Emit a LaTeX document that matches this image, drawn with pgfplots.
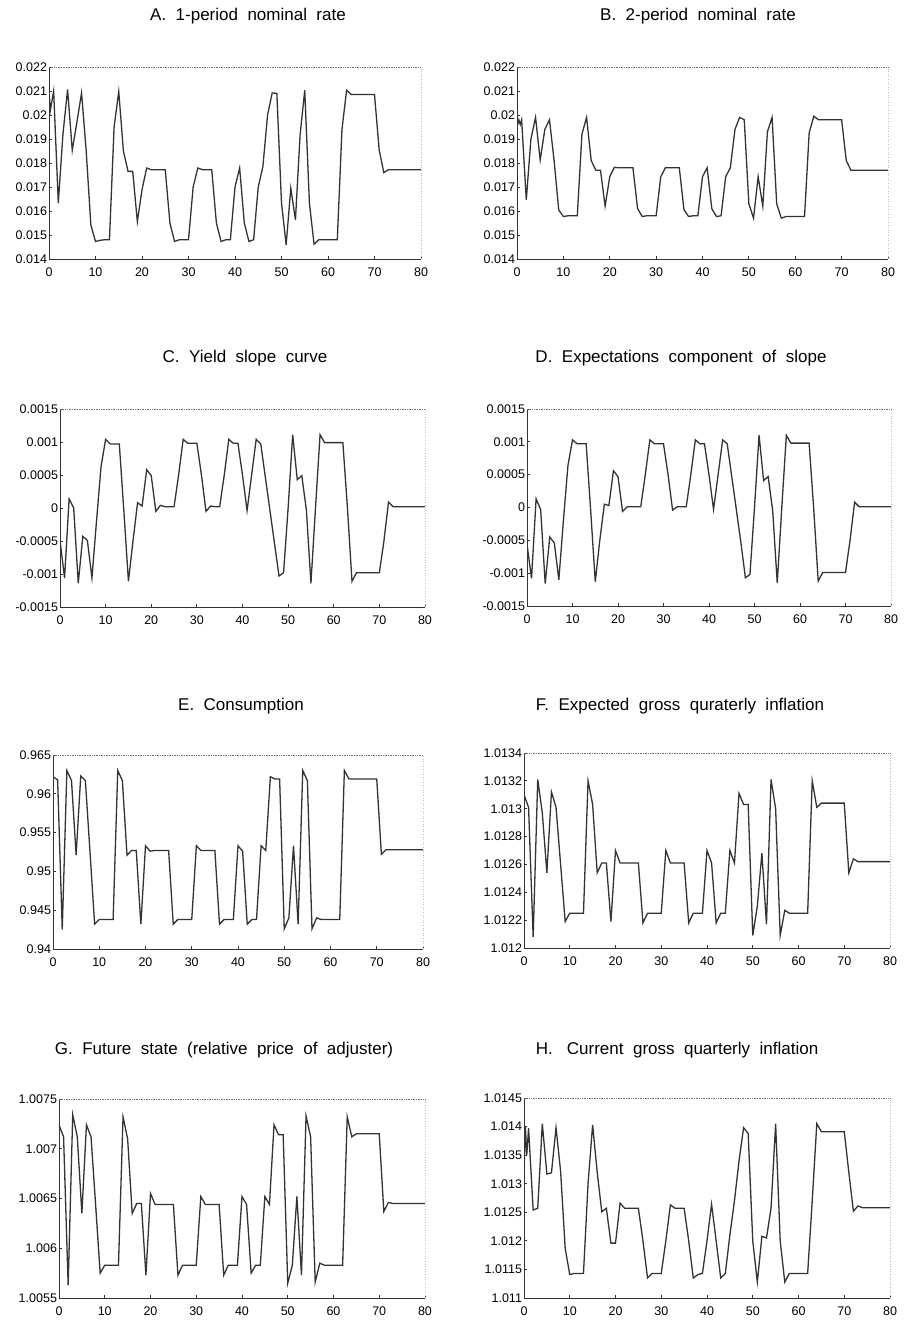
\documentclass[border=0pt]{standalone}
\usepackage{fontspec}
\setmainfont{Liberation Sans}
\usepackage{pgfplots}
\pgfplotsset{compat=1.18}
\pgfplotsset{
  panel/.style={
    scale only axis, anchor=south west,
    xmin=0, xmax=80, xtick={0,10,20,30,40,50,60,70,80},
    axis x line*=bottom, axis y line*=left,
    axis line style={-, line width=0.9pt, black!80},
    tick align=inside, major tick length=3pt,
    tick style={black!80, line width=0.8pt},
    ticklabel style={font=\fontsize{12.5}{13}\selectfont},
    /pgf/number format/assume math mode=true,
    scaled ticks=false,
    xticklabel style={yshift=-5pt},
    yticklabel style={xshift=1.5pt},
    every axis plot post/.append style={line width=1.3pt, draw=black!80, mark=none},
    after end axis/.code={
      \draw[densely dotted, black!55, line width=0.7pt] (rel axis cs:0,1) -- (rel axis cs:1,1);
      \draw[dotted, black!25, line width=0.6pt] (rel axis cs:1,0) -- (rel axis cs:1,1);
    },
  },
}
\begin{document}
\begin{tikzpicture}
\path[use as bounding box] (0pt,0pt) rectangle (906pt,1324pt);
\tikzset{ttl/.style={font=\fontsize{17}{20}\selectfont, inner sep=0pt}}
\node[ttl] at (248pt,1308pt) {A.\ \ 1-period\ \ nominal\ \ rate};
\node[ttl] at (698pt,1308pt) {B.\ \ 2-period\ \ nominal\ \ rate};
\node[ttl] at (245pt,966pt) {C.\ \ Yield\ \ slope\ \ curve};
\node[ttl] at (681pt,966pt) {D.\ \ Expectations\ \ component\ \ of\ \ slope};
\node[ttl] at (241pt,618pt) {E.\ \ Consumption};
\node[ttl] at (680pt,618pt) {F.\ \ Expected\ \ gross\ \ quraterly\ \ inflation};
\node[ttl] at (224pt,274pt) {G.\ \ Future\ \ state\ \ (relative\ \ price\ \ of\ \ adjuster)};
\node[ttl] at (677pt,274pt) {H.\ \ \ Current\ \ gross\ \ quarterly\ \ inflation};

% A
\begin{axis}[panel, at={(49pt,1065pt)}, width=372pt, height=192pt,
  ymin=0.014, ymax=0.022,
  ytick={0.014,0.015,0.016,0.017,0.018,0.019,0.020,0.021,0.022},
  yticklabels={0.014,0.015,0.016,0.017,0.018,0.019,0.02,0.021,0.022}]
\addplot coordinates {(0,0.0210)(0.3,0.0202)(1,0.0210)(2,0.01633)(3,0.0192)(4,0.02106)(5,0.01853)(6,0.0197)(7,0.02092)(8,0.0185)(9,0.01542)(10,0.01473)(11,0.01478)(12,0.0148)(13,0.0148)(14,0.0195)(15,0.02098)(16,0.0185)(17,0.01765)(18,0.01765)(19,0.01556)(20,0.01688)(21,0.01779)(22,0.01772)(23,0.01772)(24,0.01772)(25,0.01772)(26,0.0155)(27,0.01473)(28,0.0148)(29,0.0148)(30,0.0148)(31,0.0170)(32,0.01779)(33,0.01772)(34,0.01772)(35,0.01772)(36,0.0155)(37,0.01473)(38,0.0148)(39,0.0148)(40,0.0170)(41,0.01779)(42,0.0155)(43,0.01473)(44,0.0148)(45,0.0170)(46,0.01785)(47,0.0200)(48,0.02092)(49,0.0209)(50,0.01633)(51,0.01459)(52,0.01695)(53,0.01563)(54,0.01918)(55,0.02103)(56,0.01633)(57,0.01462)(58,0.0148)(59,0.0148)(60,0.0148)(61,0.0148)(62,0.0148)(63,0.01939)(64,0.02103)(65,0.02085)(66,0.02085)(67,0.02085)(68,0.02085)(69,0.02085)(70,0.02085)(71,0.01855)(72,0.0176)(73,0.01772)(74,0.01772)(75,0.01772)(76,0.01772)(77,0.01772)(78,0.01772)(79,0.01772)(80,0.01772)};
\end{axis}

% B
\begin{axis}[panel, at={(517pt,1065pt)}, width=371pt, height=192pt,
  ymin=0.014, ymax=0.022,
  ytick={0.014,0.015,0.016,0.017,0.018,0.019,0.020,0.021,0.022},
  yticklabels={0.014,0.015,0.016,0.017,0.018,0.019,0.02,0.021,0.022}]
\addplot coordinates {(0,0.0195)(0.4,0.0198)(0.7,0.0196)(1,0.0198)(2,0.01646)(3,0.0190)(4,0.0199)(5,0.01812)(6,0.0194)(7,0.0198)(8,0.0181)(9,0.01604)(10,0.01577)(11,0.0158)(12,0.0158)(13,0.0158)(14,0.0192)(15,0.0199)(16,0.0181)(17,0.0177)(18,0.0177)(19,0.0162)(20,0.01743)(21,0.01782)(22,0.0178)(23,0.0178)(24,0.0178)(25,0.0178)(26,0.0161)(27,0.01577)(28,0.0158)(29,0.0158)(30,0.0158)(31,0.01743)(32,0.0178)(33,0.0178)(34,0.0178)(35,0.0178)(36,0.01605)(37,0.01577)(38,0.0158)(39,0.0158)(40,0.01743)(41,0.0178)(42,0.0161)(43,0.01577)(44,0.0158)(45,0.01743)(46,0.0178)(47,0.0194)(48,0.0199)(49,0.0198)(50,0.0163)(51,0.0157)(52,0.01743)(53,0.0162)(54,0.0193)(55,0.0199)(56,0.0163)(57,0.0157)(58,0.01577)(59,0.01577)(60,0.01577)(61,0.01577)(62,0.01577)(63,0.01925)(64,0.01995)(65,0.0198)(66,0.0198)(67,0.0198)(68,0.0198)(69,0.0198)(70,0.0198)(71,0.0181)(72,0.0177)(73,0.0177)(74,0.0177)(75,0.0177)(76,0.0177)(77,0.0177)(78,0.0177)(79,0.0177)(80,0.0177)};
\end{axis}

% C
\begin{axis}[panel, at={(60pt,717pt)}, width=365pt, height=198pt,
  ymin=-0.0015, ymax=0.0015,
  ytick={-0.0015,-0.001,-0.0005,0,0.0005,0.001,0.0015},
  yticklabels={-0.0015,-0.001,-0.0005,0,0.0005,0.001,0.0015}]
\addplot coordinates {(0,-0.00049)(1,-0.00106)(2,0.00014)(3,0.0)(4,-0.00114)(5,-0.00043)(6,-0.00049)(7,-0.00106)(8,-0.0002)(9,0.00063)(10,0.00104)(11,0.00097)(12,0.00097)(13,0.00097)(14,-0.00005)(15,-0.00111)(16,-0.0005)(17,0.00008)(18,0.00003)(19,0.00058)(20,0.00049)(21,-0.00005)(22,0.00004)(23,0.00002)(24,0.00002)(25,0.00002)(26,0.0005)(27,0.00104)(28,0.00098)(29,0.00098)(30,0.00098)(31,0.0005)(32,-0.00005)(33,0.00003)(34,0.00002)(35,0.00002)(36,0.0005)(37,0.00104)(38,0.00098)(39,0.00098)(40,0.0005)(41,-0.00004)(42,0.0005)(43,0.00104)(44,0.00097)(45,0.00047)(46,-0.00003)(47,-0.00053)(48,-0.00103)(49,-0.00098)(50,0.0)(51,0.00111)(52,0.00043)(53,0.00049)(54,-0.00003)(55,-0.00114)(56,0.0)(57,0.00111)(58,0.00099)(59,0.00099)(60,0.00099)(61,0.00099)(62,0.00099)(63,0.0)(64,-0.00111)(65,-0.00098)(66,-0.00098)(67,-0.00098)(68,-0.00098)(69,-0.00098)(70,-0.00098)(71,-0.0005)(72,0.00009)(73,0.00002)(74,0.00002)(75,0.00002)(76,0.00002)(77,0.00002)(78,0.00002)(79,0.00002)(80,0.00002)};
\end{axis}

% D
\begin{axis}[panel, at={(527pt,718pt)}, width=364pt, height=197pt,
  ymin=-0.0015, ymax=0.0015,
  ytick={-0.0015,-0.001,-0.0005,0,0.0005,0.001,0.0015},
  yticklabels={-0.0015,-0.001,-0.0005,0,0.0005,0.001,0.0015}]
\addplot coordinates {(0,-0.00056)(1,-0.00108)(2,0.00013)(3,-0.00003)(4,-0.00116)(5,-0.00045)(6,-0.00054)(7,-0.0011)(8,-0.0002)(9,0.00064)(10,0.00103)(11,0.00097)(12,0.00097)(13,0.00097)(14,-0.00005)(15,-0.00113)(16,-0.0005)(17,0.00005)(18,0.00003)(19,0.00056)(20,0.00047)(21,-0.00006)(22,0.00001)(23,0.00001)(24,0.00001)(25,0.00001)(26,0.0005)(27,0.00103)(28,0.00097)(29,0.00097)(30,0.00097)(31,0.0005)(32,-0.00004)(33,0.00001)(34,0.00001)(35,0.00001)(36,0.0005)(37,0.00103)(38,0.00097)(39,0.00097)(40,0.0005)(41,-0.00003)(42,0.0005)(43,0.00103)(44,0.00097)(45,0.00047)(46,-0.00003)(47,-0.00053)(48,-0.00107)(49,-0.00102)(50,0.0)(51,0.0011)(52,0.00041)(53,0.00047)(54,-0.00005)(55,-0.00115)(56,0.0)(57,0.0011)(58,0.00098)(59,0.00098)(60,0.00098)(61,0.00098)(62,0.00098)(63,0.0)(64,-0.00112)(65,-0.00099)(66,-0.00099)(67,-0.00099)(68,-0.00099)(69,-0.00099)(70,-0.00099)(71,-0.0005)(72,0.00008)(73,0.00001)(74,0.00001)(75,0.00001)(76,0.00001)(77,0.00001)(78,0.00001)(79,0.00001)(80,0.00001)};
\end{axis}

% E
\begin{axis}[panel, at={(53pt,375pt)}, width=370pt, height=194pt,
  ymin=0.94, ymax=0.965,
  ytick={0.94,0.945,0.95,0.955,0.96,0.965},
  yticklabels={0.94,0.945,0.95,0.955,0.96,0.965}]
\addplot coordinates {(0,0.9622)(1,0.9618)(2,0.9425)(3,0.9630)(4,0.9617)(5,0.9521)(6,0.9623)(7,0.9617)(8,0.9525)(9,0.9432)(10,0.9438)(11,0.9438)(12,0.9438)(13,0.9438)(14,0.9630)(15,0.9617)(16,0.9521)(17,0.9527)(18,0.9527)(19,0.9432)(20,0.9533)(21,0.9526)(22,0.9527)(23,0.9527)(24,0.9527)(25,0.9527)(26,0.9432)(27,0.9438)(28,0.9438)(29,0.9438)(30,0.9438)(31,0.9533)(32,0.9527)(33,0.9527)(34,0.9527)(35,0.9527)(36,0.9432)(37,0.9438)(38,0.9438)(39,0.9438)(40,0.9533)(41,0.9526)(42,0.9432)(43,0.9438)(44,0.9438)(45,0.9533)(46,0.9527)(47,0.9622)(48,0.9619)(49,0.9619)(50,0.9426)(51,0.9440)(52,0.9533)(53,0.9432)(54,0.9630)(55,0.9617)(56,0.9426)(57,0.9440)(58,0.9438)(59,0.9438)(60,0.9438)(61,0.9438)(62,0.9438)(63,0.9630)(64,0.9619)(65,0.9619)(66,0.9619)(67,0.9619)(68,0.9619)(69,0.9619)(70,0.9619)(71,0.9522)(72,0.9528)(73,0.9528)(74,0.9528)(75,0.9528)(76,0.9528)(77,0.9528)(78,0.9528)(79,0.9528)(80,0.9528)};
\end{axis}

% F
\begin{axis}[panel, at={(524pt,376pt)}, width=366pt, height=195pt,
  ymin=1.012, ymax=1.0134,
  ytick={1.012,1.0122,1.0124,1.0126,1.0128,1.013,1.0132,1.0134},
  yticklabels={1.012,1.0122,1.0124,1.0126,1.0128,1.013,1.0132,1.0134}]
\addplot coordinates {(0,1.0131)(1,1.01301)(2,1.01208)(3,1.01321)(4,1.01297)(5,1.01254)(6,1.01312)(7,1.01301)(8,1.0126)(9,1.01219)(10,1.01225)(11,1.01225)(12,1.01225)(13,1.01225)(14,1.0132)(15,1.01303)(16,1.01254)(17,1.01261)(18,1.01261)(19,1.01219)(20,1.0127)(21,1.01261)(22,1.01261)(23,1.01261)(24,1.01261)(25,1.01261)(26,1.01218)(27,1.01225)(28,1.01225)(29,1.01225)(30,1.01225)(31,1.0127)(32,1.01261)(33,1.01261)(34,1.01261)(35,1.01261)(36,1.01218)(37,1.01225)(38,1.01225)(39,1.01225)(40,1.0127)(41,1.01261)(42,1.01218)(43,1.01225)(44,1.01225)(45,1.0127)(46,1.01261)(47,1.01311)(48,1.01303)(49,1.01303)(50,1.01209)(51,1.0123)(52,1.01268)(53,1.01217)(54,1.01321)(55,1.013)(56,1.01209)(57,1.01227)(58,1.01225)(59,1.01225)(60,1.01225)(61,1.01225)(62,1.01225)(63,1.0132)(64,1.01301)(65,1.01304)(66,1.01304)(67,1.01304)(68,1.01304)(69,1.01304)(70,1.01304)(71,1.01254)(72,1.01264)(73,1.01262)(74,1.01262)(75,1.01262)(76,1.01262)(77,1.01262)(78,1.01262)(79,1.01262)(80,1.01262)};
\end{axis}

% G
\begin{axis}[panel, at={(59pt,26pt)}, width=366pt, height=199pt,
  ymin=1.0055, ymax=1.0075,
  ytick={1.0055,1.006,1.0065,1.007,1.0075},
  yticklabels={1.0055,1.006,1.0065,1.007,1.0075}]
\addplot coordinates {(0,1.00724)(1,1.00712)(2,1.00563)(3,1.00734)(4,1.00712)(5,1.00635)(6,1.00724)(7,1.00712)(8,1.00644)(9,1.00575)(10,1.00583)(11,1.00583)(12,1.00583)(13,1.00583)(14,1.00732)(15,1.0071)(16,1.00635)(17,1.00645)(18,1.00645)(19,1.00573)(20,1.00655)(21,1.00644)(22,1.00644)(23,1.00644)(24,1.00644)(25,1.00644)(26,1.00573)(27,1.00583)(28,1.00583)(29,1.00583)(30,1.00583)(31,1.00652)(32,1.00644)(33,1.00644)(34,1.00644)(35,1.00644)(36,1.00573)(37,1.00583)(38,1.00583)(39,1.00583)(40,1.00652)(41,1.00644)(42,1.00575)(43,1.00583)(44,1.00583)(45,1.00652)(46,1.00644)(47,1.00724)(48,1.00714)(49,1.00714)(50,1.00565)(51,1.00583)(52,1.00652)(53,1.00573)(54,1.00733)(55,1.00712)(56,1.00566)(57,1.00585)(58,1.00583)(59,1.00583)(60,1.00583)(61,1.00583)(62,1.00583)(63,1.00732)(64,1.00712)(65,1.00715)(66,1.00715)(67,1.00715)(68,1.00715)(69,1.00715)(70,1.00715)(71,1.00637)(72,1.00646)(73,1.00645)(74,1.00645)(75,1.00645)(76,1.00645)(77,1.00645)(78,1.00645)(79,1.00645)(80,1.00645)};
\end{axis}

% H
\begin{axis}[panel, at={(524pt,26pt)}, width=366pt, height=200pt,
  ymin=1.011, ymax=1.0145,
  ytick={1.011,1.0115,1.012,1.0125,1.013,1.0135,1.014,1.0145},
  yticklabels={1.011,1.0115,1.012,1.0125,1.013,1.0135,1.014,1.0145}]
\addplot coordinates {(0,1.01321)(0.3,1.0140)(0.6,1.0135)(1,1.01397)(2,1.01254)(3,1.01257)(4,1.01405)(5,1.01317)(6,1.01319)(7,1.01398)(8,1.01322)(9,1.01187)(10,1.01141)(11,1.01143)(12,1.01143)(13,1.01143)(14,1.0130)(15,1.01403)(16,1.0132)(17,1.01251)(18,1.01257)(19,1.01196)(20,1.01196)(21,1.01266)(22,1.01257)(23,1.01257)(24,1.01257)(25,1.01257)(26,1.0120)(27,1.01135)(28,1.01143)(29,1.01143)(30,1.01143)(31,1.0120)(32,1.01263)(33,1.01257)(34,1.01257)(35,1.01257)(36,1.0120)(37,1.01135)(38,1.01141)(39,1.01143)(40,1.0120)(41,1.01264)(42,1.0120)(43,1.01135)(44,1.01143)(45,1.0121)(46,1.0127)(47,1.0134)(48,1.01398)(49,1.01388)(50,1.0120)(51,1.01128)(52,1.01208)(53,1.01205)(54,1.01257)(55,1.01405)(56,1.0120)(57,1.01128)(58,1.01143)(59,1.01143)(60,1.01143)(61,1.01143)(62,1.01143)(63,1.0127)(64,1.01405)(65,1.01391)(66,1.01391)(67,1.01391)(68,1.01391)(69,1.01391)(70,1.01391)(71,1.0132)(72,1.01252)(73,1.01261)(74,1.01258)(75,1.01258)(76,1.01258)(77,1.01258)(78,1.01258)(79,1.01258)(80,1.01258)};
\end{axis}
\end{tikzpicture}
\end{document}
